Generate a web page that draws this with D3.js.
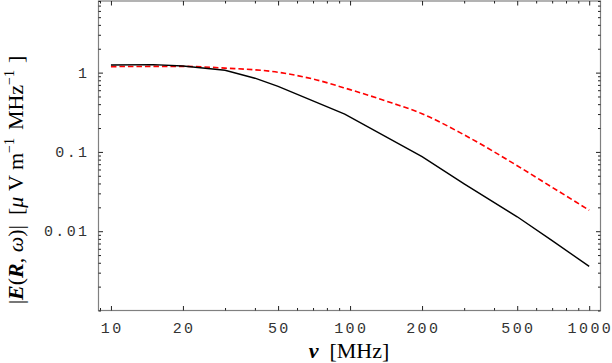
<!DOCTYPE html>
<html>
<head>
<meta charset="utf-8">
<script src="https://cdn.jsdelivr.net/npm/d3@7"></script>
<style>
  html, body { margin: 0; padding: 0; background: #fff; }
  svg { display: block; }
  .ticklab { font-family: "Liberation Mono", "DejaVu Sans Mono", monospace; font-size: 15px; fill: #333; letter-spacing: 2.4px; }
  .title { font-family: "Liberation Serif", "DejaVu Serif", serif; fill: #000; }
</style>
</head>
<body>
<svg id="chart" width="612" height="363"></svg>
<script>
// ---- data ----
const freqBlack = [10, 15, 20, 30, 40, 50, 95, 200, 300, 500, 700, 1000];
const eBlack    = [1.25, 1.26, 1.21, 1.07, 0.85, 0.67, 0.30, 0.087, 0.0395, 0.0152, 0.0076, 0.0036];

const freqRed = [10, 20, 30, 50, 70, 100, 150, 200, 300, 500, 700, 1000];
const eRed    = [1.19, 1.20, 1.14, 1.01, 0.83, 0.61, 0.413, 0.303, 0.164, 0.067, 0.0358, 0.0184];

const xTickValues = [10, 20, 50, 100, 200, 500, 1000];
const xTickLabels = ["10", "20", "50", "100", "200", "500", "1000"];
const yTickValues = [0.01, 0.1, 1];
const yTickLabels = ["0.01", "0.1", "1"];

// ---- layout ----
const svg = d3.select("#chart");
const L = 98.5, R = 600.5, T = 1, B = 310.5;

const x = d3.scaleLog().domain([8.87, 1115]).range([L, R]);
const y = d3.scaleLog().domain([0.001, 8]).range([B, T]);

const xMinor = x.ticks().filter(v => !xTickValues.includes(v));
const yMinor = y.ticks().filter(v => !yTickValues.some(t => Math.abs(t - v) / v < 1e-6));

// frame
svg.append("rect")
  .attr("x", L).attr("y", T).attr("width", R - L).attr("height", B - T)
  .attr("fill", "none").attr("stroke", "#808080").attr("stroke-width", 1.2);

function drawTicks(axisFn, scale, vals, size, transform) {
  const g = svg.append("g").attr("transform", transform)
    .call(axisFn(scale).tickValues(vals).tickSize(size).tickFormat(""));
  g.select(".domain").remove();
  g.selectAll(".tick line").attr("stroke", "#222").attr("stroke-width", 1);
  return g;
}
// bottom / top
drawTicks(d3.axisBottom, x, xTickValues, -4.5, `translate(0,${B})`);
drawTicks(d3.axisBottom, x, xMinor, -2.5, `translate(0,${B})`);
drawTicks(d3.axisTop, x, xTickValues, -4.5, `translate(0,${T})`);
drawTicks(d3.axisTop, x, xMinor, -2.5, `translate(0,${T})`);
// left / right
drawTicks(d3.axisLeft, y, yTickValues, -4.5, `translate(${L},0)`);
drawTicks(d3.axisLeft, y, yMinor, -2.5, `translate(${L},0)`);
drawTicks(d3.axisRight, y, yTickValues, -4.5, `translate(${R},0)`);
drawTicks(d3.axisRight, y, yMinor, -2.5, `translate(${R},0)`);

// tick labels
svg.append("g").selectAll("text").data(xTickValues).join("text")
  .attr("class", "ticklab")
  .attr("x", d => x(d) + 1.2)
  .attr("y", 333)
  .attr("text-anchor", "middle")
  .text((d, i) => xTickLabels[i]);

svg.append("g").selectAll("text").data(yTickValues).join("text")
  .attr("class", "ticklab")
  .attr("x", 89.5)
  .attr("y", d => y(d) + 5)
  .attr("text-anchor", "end")
  .text((d, i) => yTickLabels[i]);

// curves
const lineBlack = d3.line().x((d, i) => x(freqBlack[i])).y(d => y(d)).curve(d3.curveLinear);
const lineRed = d3.line().x((d, i) => x(freqRed[i])).y(d => y(d)).curve(d3.curveMonotoneX);

svg.append("path").datum(eRed).attr("d", lineRed)
  .attr("fill", "none").attr("stroke", "#ff0000").attr("stroke-width", 1.6)
  .attr("stroke-dasharray", "5.5,3");
svg.append("path").datum(eBlack).attr("d", lineBlack)
  .attr("fill", "none").attr("stroke", "#000").attr("stroke-width", 1.4);

// x title
const xt = svg.append("text").attr("class", "title")
  .attr("x", 349).attr("y", 358).attr("text-anchor", "middle").attr("font-size", 22);
xt.append("tspan").attr("font-style", "italic").attr("font-weight", "bold").text("ν");
xt.append("tspan").attr("dx", 11).text("[MHz]");

// y title
const yt = svg.append("text").attr("class", "title")
  .attr("transform", "translate(23,180) rotate(-90)")
  .attr("text-anchor", "middle").attr("font-size", 22);
yt.append("tspan").text("|");
yt.append("tspan").attr("font-style", "italic").attr("font-weight", "bold").text("E");
yt.append("tspan").text("(");
yt.append("tspan").attr("font-style", "italic").attr("font-weight", "bold").text("R");
yt.append("tspan").text(", ");
yt.append("tspan").attr("font-style", "italic").text("ω");
yt.append("tspan").text(")|");
yt.append("tspan").attr("dx", 10).text("[");
yt.append("tspan").attr("font-style", "italic").text("μ");
yt.append("tspan").text(" V m");
yt.append("tspan").attr("font-size", 14).attr("dy", -9).text("−1");
yt.append("tspan").attr("dy", 9).attr("dx", 8).text("MHz");
yt.append("tspan").attr("font-size", 14).attr("dy", -9).text("−1");
yt.append("tspan").attr("dy", 9).attr("dx", 7).text("]");
</script>
</body>
</html>
